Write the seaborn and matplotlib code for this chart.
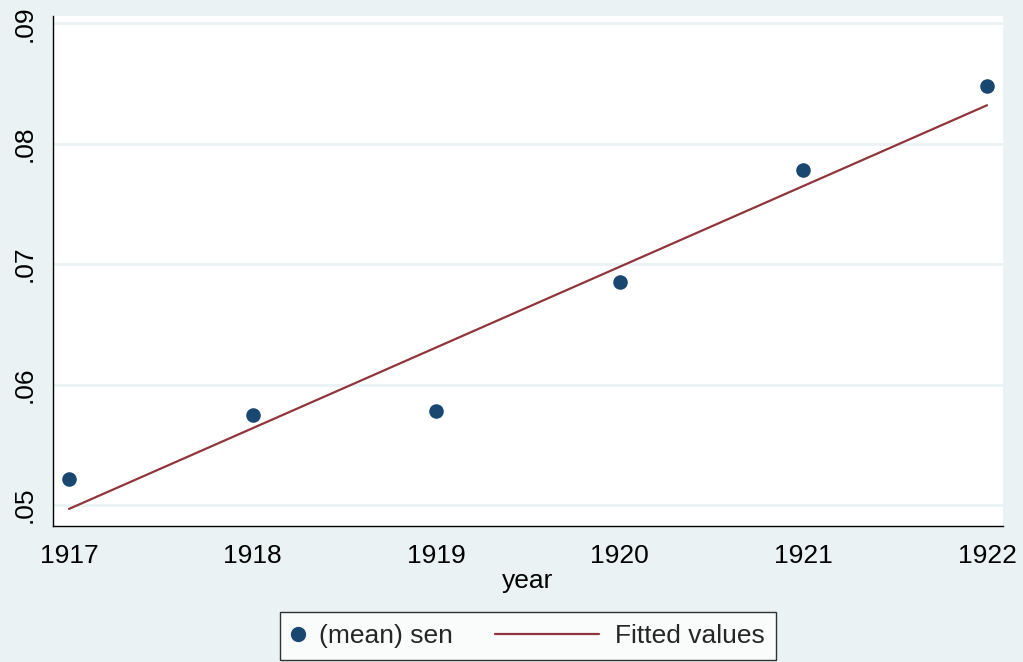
import numpy as np
import pandas as pd
import matplotlib
matplotlib.use("Agg")
import matplotlib.pyplot as plt
from matplotlib.lines import Line2D
from matplotlib.legend_handler import HandlerBase
import seaborn as sns

# values
years = [1917, 1918, 1919, 1920, 1921, 1922]
mean_sen = [0.0522, 0.0575, 0.0578, 0.0685, 0.0778, 0.0848]
y_ticks = [0.05, 0.06, 0.07, 0.08, 0.09]
y_tick_labels = [".05", ".06", ".07", ".08", ".09"]

BG = "#EAF2F3"
DOT = "#1A476F"
FIT = "#90353B"
FS = 19


class MarkerHandler(HandlerBase):
    # dot sits at the left of a short handle
    def create_artists(self, legend, orig, xd, yd, w, h, fs, trans):
        m = Line2D([-xd + 0.23 * fs], [h / 2 - yd], ls="none", marker="o",
                   ms=10, color=DOT, transform=trans)
        return [m]


class LongLineHandler(HandlerBase):
    # line reaches back into the column gap, like Stata's key
    def create_artists(self, legend, orig, xd, yd, w, h, fs, trans):
        ln = Line2D([-xd - 3.48 * fs, -xd + w], [h / 2 - yd] * 2, color=FIT,
                    lw=1.6, transform=trans)
        return [ln]


sns.set_theme(style="white")
plt.rcParams["font.family"] = ["Liberation Sans", "DejaVu Sans"]

df = pd.DataFrame({"year": years, "sen": mean_sen})
slope, icpt = np.polyfit(df["year"], df["sen"], 1)
df["fitted"] = icpt + slope * df["year"]

fig = plt.figure(figsize=(10.23, 6.62), dpi=100, facecolor=BG)
ax = fig.add_axes([53 / 1023, 136 / 662, 950 / 1023, 510 / 662])
ax.set_facecolor("white")

for t in y_ticks:
    ax.axhline(t, color=BG, lw=2, zorder=0)

sns.scatterplot(data=df, x="year", y="sen", ax=ax, color=DOT, s=110,
                edgecolor=DOT, linewidth=0, zorder=3, legend=False)
sns.lineplot(data=df, x="year", y="fitted", ax=ax, color=FIT, lw=1.6,
             zorder=2, legend=False)

ax.set_xlim(1916.913, 1922.087)
ax.set_ylim(0.04826, 0.0906)
ax.set_xticks(years)
ax.set_xticklabels([str(y) for y in years])
ax.set_yticks(y_ticks)
ax.set_yticklabels(y_tick_labels, rotation=90, va="center")
ax.tick_params(axis="both", direction="out", length=8, width=1, color="black",
               labelsize=FS, labelcolor="black", pad=4)
ax.tick_params(axis="x", pad=5)
ax.set_xlabel("year", fontsize=FS, color="black", labelpad=1)
ax.set_ylabel("")

for side in ["top", "right"]:
    ax.spines[side].set_visible(False)
for side in ["left", "bottom"]:
    ax.spines[side].set_color("black")
    ax.spines[side].set_linewidth(1)

h_dot = Line2D([], [], ls="none", marker="o", color=DOT)
h_fit = Line2D([], [], color=FIT)
leg = fig.legend([h_dot, h_fit], ["(mean) sen", "Fitted values"],
                 handler_map={h_dot: MarkerHandler(), h_fit: LongLineHandler()},
                 loc="lower center", bbox_to_anchor=(528 / 1023, 2 / 662),
                 borderaxespad=0, ncol=2, fontsize=FS, frameon=True,
                 fancybox=False, edgecolor="black", facecolor="white",
                 handlelength=0.45, columnspacing=5.08, handletextpad=0.6,
                 borderpad=0.45)
leg.get_frame().set_linewidth(1)

fig.savefig("out.png", dpi=100, facecolor=BG)
